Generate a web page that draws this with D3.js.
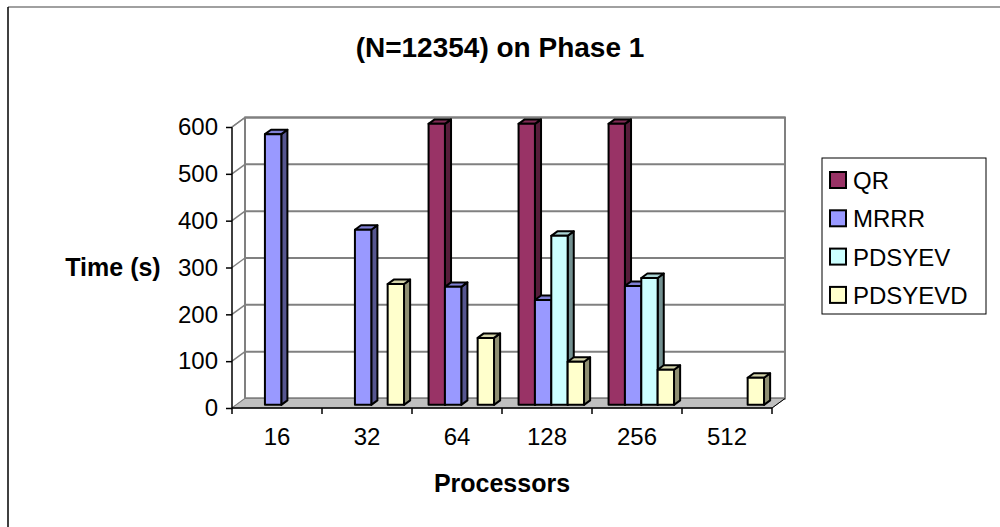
<!DOCTYPE html>
<html>
<head>
<meta charset="utf-8">
<script src="https://cdn.jsdelivr.net/npm/d3@7"></script>
<style>
  body { margin: 0; background: #fff; }
  svg text { font-family: "Liberation Sans", Arial, sans-serif; }
</style>
</head>
<body>
<div id="chart"></div>
<script>
// data (null = no bar)
const categories = ["16", "32", "64", "128", "256", "512"];
const seriesNames = ["QR", "MRRR", "PDSYEV", "PDSYEVD"];
const qr      = [null, null, 600, 600, 600, null];
const mrrr    = [578, 374, 252, 224, 254, null];
const pdsyev  = [null, null, null, 361, 271, null];
const pdsyevd = [null, 258, 143, 92, 75, 58];
const yTicks  = [0, 100, 200, 300, 400, 500, 600];
const colors  = ["#993366", "#9999ff", "#ccffff", "#ffffcc"];

const seriesValues = [qr, mrrr, pdsyev, pdsyevd];

const width = 1000, height = 527;
const svg = d3.select("#chart").append("svg")
    .attr("width", width)
    .attr("height", height);

// 3d depth offset of the floor (front -> back)
const DX = 13, DY = -9.5;
const depth = t => [DX * t, DY * t];

const x = d3.scaleBand()
    .domain(categories)
    .range([232, 772]);

const y = d3.scaleLinear()
    .domain([0, 600])
    .range([408, 127]);

// outer frame
svg.append("line").attr("x1", 8).attr("x2", width).attr("y1", 7).attr("y2", 7)
    .attr("stroke", "#808080").attr("stroke-width", 1.5);
svg.append("line").attr("x1", 8).attr("x2", 8).attr("y1", 7).attr("y2", height)
    .attr("stroke", "#000").attr("stroke-width", 1.5);

// title
svg.append("text")
    .attr("x", 500).attr("y", 57)
    .attr("text-anchor", "middle")
    .attr("font-size", 28).attr("font-weight", "bold")
    .text("(N=12354) on Phase 1");

const x0 = x.range()[0], x1 = x.range()[1];
const [bx, by] = depth(1);

// back wall
svg.append("rect")
    .attr("x", x0 + bx).attr("y", y(600) + by)
    .attr("width", x1 - x0).attr("height", y(0) - y(600))
    .attr("fill", "#fff").attr("stroke", "#808080").attr("stroke-width", 2);

// gridlines on back wall and side wall
yTicks.forEach(v => {
    svg.append("line")
        .attr("x1", x0 + bx).attr("x2", x1 + bx)
        .attr("y1", y(v) + by).attr("y2", y(v) + by)
        .attr("stroke", "#808080").attr("stroke-width", 2);
    svg.append("line")
        .attr("x1", x0).attr("x2", x0 + bx)
        .attr("y1", y(v)).attr("y2", y(v) + by)
        .attr("stroke", "#808080").attr("stroke-width", 1.5);
});

// floor
svg.append("polygon")
    .attr("points", [[x0, y(0)], [x1, y(0)], [x1 + bx, y(0) + by], [x0 + bx, y(0) + by]].join(" "))
    .attr("fill", "#c0c0c0").attr("stroke", "#808080").attr("stroke-width", 1);

// bars
const bw = x.bandwidth() / 5.5;
const f0 = depth(0.33), f1 = depth(0.8);
categories.forEach((c, ci) => {
    seriesValues.forEach((vals, si) => {
        const v = vals[ci];
        if (v == null) return;
        const col = d3.color(colors[si]);
        const left = x(c) + bw * 0.75 + si * bw + f0[0];
        const right = left + bw;
        const top = y(v) + f0[1];
        const bottom = y(0) + f0[1];
        const ox = f1[0] - f0[0], oy = f1[1] - f0[1];
        const g = svg.append("g")
            .attr("stroke", "#000").attr("stroke-width", 2).attr("stroke-linejoin", "round");
        // side face
        g.append("polygon")
            .attr("points", [[right, top], [right + ox, top + oy], [right + ox, bottom + oy], [right, bottom]].join(" "))
            .attr("fill", col.darker(1.6));
        // top face
        g.append("polygon")
            .attr("points", [[left, top], [left + ox, top + oy], [right + ox, top + oy], [right, top]].join(" "))
            .attr("fill", col.darker(0.5));
        // front face
        g.append("rect")
            .attr("x", left).attr("y", top)
            .attr("width", bw).attr("height", bottom - top)
            .attr("fill", colors[si]);
    });
});

// front axes
svg.append("line").attr("x1", x0).attr("x2", x0).attr("y1", y(600)).attr("y2", y(0))
    .attr("stroke", "#000").attr("stroke-width", 1.5);
svg.append("line").attr("x1", x0).attr("x2", x1).attr("y1", y(0)).attr("y2", y(0))
    .attr("stroke", "#000").attr("stroke-width", 1.5);
svg.append("line").attr("x1", x0).attr("x2", x0 + bx).attr("y1", y(600)).attr("y2", y(600) + by)
    .attr("stroke", "#808080").attr("stroke-width", 1.5);
svg.append("line").attr("x1", x1).attr("x2", x1 + bx).attr("y1", y(0)).attr("y2", y(0) + by)
    .attr("stroke", "#000").attr("stroke-width", 1);

// y axis ticks + labels
const yAxis = d3.axisLeft(y).tickValues(yTicks).tickSize(6).tickPadding(8);
const ya = svg.append("g").attr("transform", `translate(${x0},0)`).call(yAxis);
ya.select(".domain").remove();
ya.selectAll("line").attr("stroke", "#000").attr("stroke-width", 1.5);
ya.selectAll("text").attr("font-size", 24).attr("fill", "#000")
    .attr("font-family", "Liberation Sans, Arial, sans-serif");

// x axis ticks + labels
const xa = svg.append("g").attr("transform", `translate(0,${y(0)})`);
categories.concat([null]).forEach((c, i) => {
    const xx = c == null ? x1 : x(c);
    xa.append("line").attr("x1", xx).attr("x2", xx).attr("y1", 0).attr("y2", 6)
        .attr("stroke", "#000").attr("stroke-width", 1.5);
});
xa.selectAll("text.cat").data(categories).join("text")
    .attr("class", "cat")
    .attr("x", d => x(d) + x.bandwidth() / 2)
    .attr("y", 37)
    .attr("text-anchor", "middle")
    .attr("font-size", 24)
    .text(d => d);

// axis titles
svg.append("text")
    .attr("x", 502).attr("y", 492)
    .attr("text-anchor", "middle")
    .attr("font-size", 25).attr("font-weight", "bold")
    .text("Processors");
svg.append("text")
    .attr("x", 113).attr("y", 276)
    .attr("text-anchor", "middle")
    .attr("font-size", 25).attr("font-weight", "bold")
    .text("Time (s)");

// legend
const legend = svg.append("g");
legend.append("rect")
    .attr("x", 822).attr("y", 158).attr("width", 164).attr("height", 156)
    .attr("fill", "#fff").attr("stroke", "#000").attr("stroke-width", 1);
seriesNames.forEach((name, i) => {
    const cy = 180 + i * 38.3;
    legend.append("rect")
        .attr("x", 830).attr("y", cy - 8).attr("width", 16).attr("height", 16)
        .attr("fill", colors[i]).attr("stroke", "#000").attr("stroke-width", 2);
    legend.append("text")
        .attr("x", 853).attr("y", cy + 9)
        .attr("font-size", 24)
        .text(name);
});
</script>
</body>
</html>
